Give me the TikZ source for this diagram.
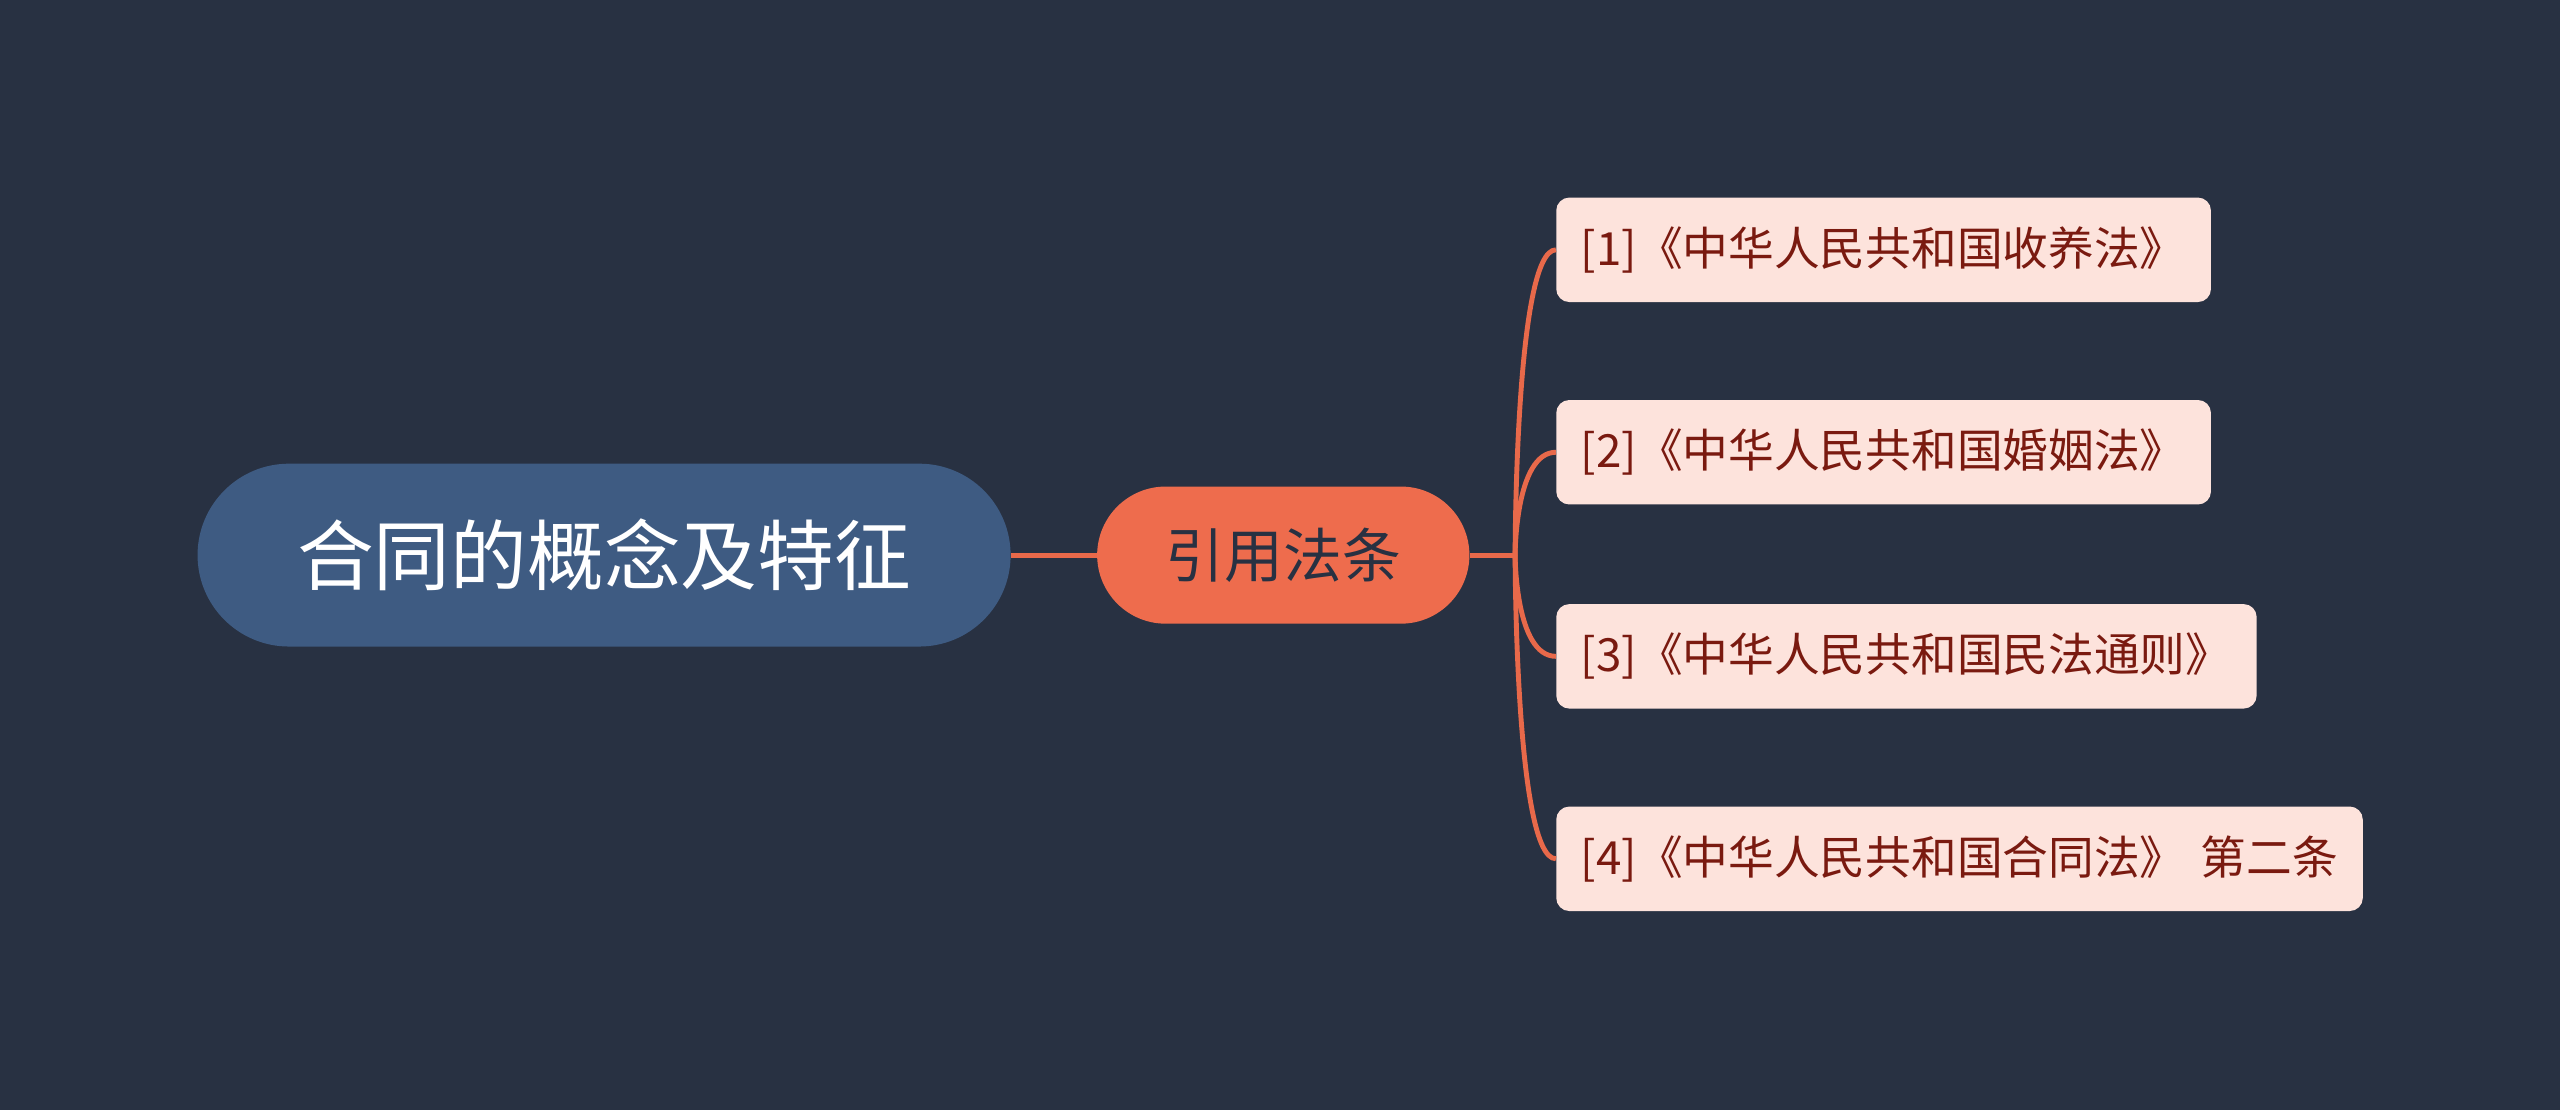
\documentclass[tikz,border=0pt]{standalone}
\usepackage{fontspec}
\setmainfont{Noto Sans CJK SC}
\definecolor{bg}{HTML}{283142}
\definecolor{rootc}{HTML}{3E5B82}
\definecolor{midc}{HTML}{EE6C4D}
\definecolor{leafc}{HTML}{FDE3DC}
\definecolor{leaft}{HTML}{7A1A10}
\definecolor{linec}{HTML}{E8694A}
\begin{document}
\begin{tikzpicture}[x=1pt,y=-1pt,
  leaf/.style={fill=leafc,rounded corners=8pt,minimum height=64pt,anchor=west,text=leaft,font=\fontsize{28}{32}\selectfont,inner xsep=15pt,align=left},
  conn/.style={draw=linec,line width=3pt}]
\fill[bg] (0,0) rectangle (1568,680);
\useasboundingbox (0,0) rectangle (1568,680);
\node[fill=rootc,rounded corners=56pt,minimum width=498pt,minimum height=112pt,text=white,font=\fontsize{47}{52}\selectfont] (root) at (370,340) {合同的概念及特征};
\node[fill=midc,rounded corners=42pt,minimum width=228pt,minimum height=84pt,text=bg,font=\fontsize{36}{40}\selectfont] (mid) at (786,340) {引用法条};
\node[leaf,text width=371pt] (l1) at (953,153) {[1]《中华人民共和国收养法》};
\node[leaf,text width=371pt] (l2) at (953,277) {[2]《中华人民共和国婚姻法》};
\node[leaf,text width=399pt] (l3) at (953,402) {[3]《中华人民共和国民法通则》};
\node[leaf,text width=464pt] (l4) at (953,526) {[4]《中华人民共和国合同法》 第二条};
\coordinate (j) at (928,340);
\draw[conn] (root.east) -- (mid.west);
\draw[conn] (mid.east) -- (j);
\foreach \n in {l1,l2,l3,l4}{
  \draw[conn] (j) .. controls (928,340) and (928,0|-\n.west) .. (\n.west);
}
\end{tikzpicture}
\end{document}
